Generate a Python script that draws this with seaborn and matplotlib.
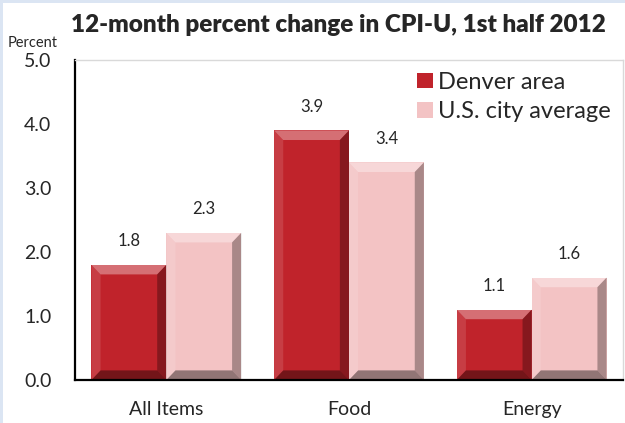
import pandas as pd
import seaborn as sns
import matplotlib.pyplot as plt
from matplotlib.patches import Polygon, Rectangle

# Data
categories = ['All Items', 'Food', 'Energy']
denver = [1.8, 3.9, 1.1]
us_avg = [2.3, 3.4, 1.6]
series_names = ['Denver area', 'U.S. city average']
colors = ['#c0232b', '#f3c3c4']

df = pd.DataFrame({
    'Category': categories * 2,
    'Value': denver + us_avg,
    'Series': [series_names[0]] * 3 + [series_names[1]] * 3,
})

sns.set_style('white')
plt.rcParams['font.family'] = ['Lato', 'DejaVu Sans']

fig = plt.figure(figsize=(6.25, 4.23), dpi=100)
fig.patch.set_facecolor('#dbe5f3')
# white panel, light blue strip only on the left and top
fig.add_artist(Rectangle((3 / 625, 0), 1, 1 - 3 / 423, transform=fig.transFigure,
                         facecolor='white', edgecolor='none', zorder=0))
ax = fig.add_axes([75 / 625, 43 / 423, 548 / 625, 320 / 423])

sns.barplot(data=df, x='Category', y='Value', hue='Series', palette=colors,
            width=0.82, saturation=1, ax=ax, edgecolor='none')

# bevel look on each bar
bx, by = 0.05, 0.15
for patch in ax.patches:
    x0, w, h = patch.get_x(), patch.get_width(), patch.get_height()
    if h <= 0:
        continue
    x1 = x0 + w
    top = Polygon([[x0, h], [x1, h], [x1 - bx, h - by], [x0 + bx, h - by]],
                  facecolor='white', alpha=0.35, edgecolor='none')
    left = Polygon([[x0, 0], [x0, h], [x0 + bx, h - by], [x0 + bx, by]],
                   facecolor='white', alpha=0.12, edgecolor='none')
    right = Polygon([[x1, 0], [x1, h], [x1 - bx, h - by], [x1 - bx, by]],
                    facecolor='black', alpha=0.3, edgecolor='none')
    bottom = Polygon([[x0, 0], [x1, 0], [x1 - bx, by], [x0 + bx, by]],
                     facecolor='black', alpha=0.4, edgecolor='none')
    for p in (top, left, right, bottom):
        ax.add_patch(p)
    ax.text(x0 + w / 2, h + 0.24, f'{h:.1f}', ha='center', va='bottom', fontsize=12)

ax.set_ylim(0, 5)
ax.set_yticks([0, 1, 2, 3, 4, 5])
ax.set_yticklabels([f'{v:.1f}' for v in range(6)], fontsize=14)
ax.tick_params(axis='x', labelsize=14, length=0, pad=15)
ax.tick_params(axis='y', length=0, pad=17)
ax.set_xlabel('')
ax.set_ylabel('')

for s in ['left', 'bottom']:
    ax.spines[s].set_color('black')
    ax.spines[s].set_linewidth(1.6)
for s in ['top', 'right']:
    ax.spines[s].set_color('#d9d9d9')
    ax.spines[s].set_linewidth(1)

leg = ax.legend(loc='upper right', frameon=False, fontsize=17,
                handlelength=0.65, handleheight=0.65, handletextpad=0.25,
                borderaxespad=0.2, borderpad=0.3, labelspacing=0.35)

fig.text(0.542, 0.941, '12-month percent change in CPI-U, 1st half 2012',
         ha='center', va='center', fontsize=17.5, fontweight='heavy')
fig.text(8 / 625, 0.898, 'Percent', ha='left', va='center', fontsize=10.5)

plt.savefig('out.png', dpi=100, facecolor=fig.get_facecolor())
